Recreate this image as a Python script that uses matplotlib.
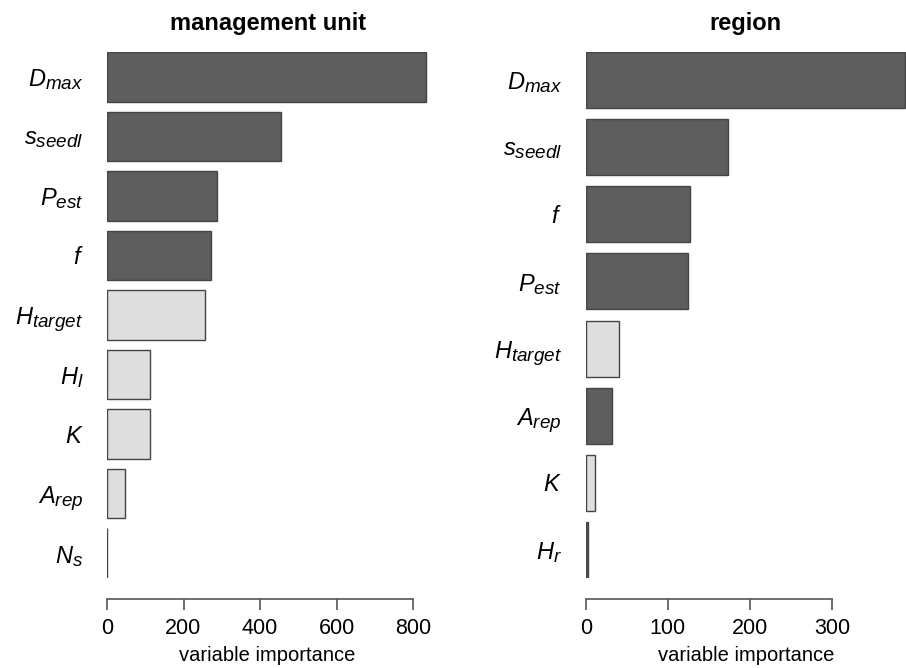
import matplotlib
matplotlib.use("Agg")
import matplotlib.pyplot as plt
import matplotlib._mathtext as mathtext_impl

plt.rcParams["font.family"] = ["Liberation Sans", "DejaVu Sans"]
plt.rcParams["mathtext.fontset"] = "custom"
plt.rcParams["mathtext.it"] = "Liberation Sans:italic"
plt.rcParams["mathtext.rm"] = "Liberation Sans"
# slightly larger subscripts, closer to R plotmath
mathtext_impl.SHRINK_FACTOR = 0.8

# Variable importance, listed top to bottom
mu_labels = [r"$D_{max}$", r"$s_{seedl}$", r"$P_{est}$", r"$f$", r"$H_{target}$",
             r"$H_{l}$", r"$K$", r"$A_{rep}$", r"$N_{s}$"]
mu_values = [833, 454, 287, 272, 257, 113, 113, 47, 1]
mu_dark = [True, True, True, True, False, False, False, False, False]

reg_labels = [r"$D_{max}$", r"$s_{seedl}$", r"$f$", r"$P_{est}$", r"$H_{target}$",
              r"$A_{rep}$", r"$K$", r"$H_{r}$"]
reg_values = [389, 173, 127, 124, 40.5, 32, 11, 2.5]
reg_dark = [True, True, True, True, False, True, False, True]

mu_ticks = [0, 200, 400, 600, 800]
reg_ticks = [0, 100, 200, 300]

DARK = "#5e5e5e"
LIGHT = "#dedede"
EDGE = "#444444"
W, H = 906, 668
BAR_W = 1 / 1.2


def draw_panel(fig, left_px, xmax, px_per_unit, labels, values, dark, ticks, title):
    n = len(values)
    top_px, bottom_px = 52, 578
    width_px = xmax * px_per_unit
    ax = fig.add_axes([left_px / W, (H - bottom_px) / H,
                       width_px / W, (bottom_px - top_px) / H])
    ypos = list(range(n))
    colors = [DARK if d else LIGHT for d in dark]
    ax.barh(ypos, values, height=BAR_W, color=colors, edgecolor=EDGE,
            linewidth=1.0)
    ax.set_xlim(0, xmax)
    ax.set_ylim(n - 1 + BAR_W / 2, -BAR_W / 2)

    for side in ("top", "right", "left"):
        ax.spines[side].set_visible(False)
    ax.spines["bottom"].set_position(("outward", 15))
    ax.spines["bottom"].set_bounds(ticks[0], ticks[-1])
    ax.spines["bottom"].set_color("#555555")
    ax.spines["bottom"].set_linewidth(1.2)
    ax.set_xticks(ticks)
    ax.tick_params(axis="x", length=8, width=1.2, color="#555555",
                   labelsize=15.5, pad=6)
    ax.set_yticks(ypos)
    ax.set_yticklabels(labels)
    ax.tick_params(axis="y", length=0, labelsize=17, pad=17)
    ax.set_xlabel("variable importance", fontsize=14.5, labelpad=5)
    ax.set_title(title, fontsize=17, fontweight="bold", pad=16)
    return ax


fig = plt.figure(figsize=(W / 100, H / 100), dpi=100)
draw_panel(fig, 107, 840, 0.3825, mu_labels, mu_values, mu_dark, mu_ticks,
           "management unit")
draw_panel(fig, 585.7, 390, 0.821, reg_labels, reg_values, reg_dark, reg_ticks,
           "region")
fig.savefig("out.png", dpi=100)
